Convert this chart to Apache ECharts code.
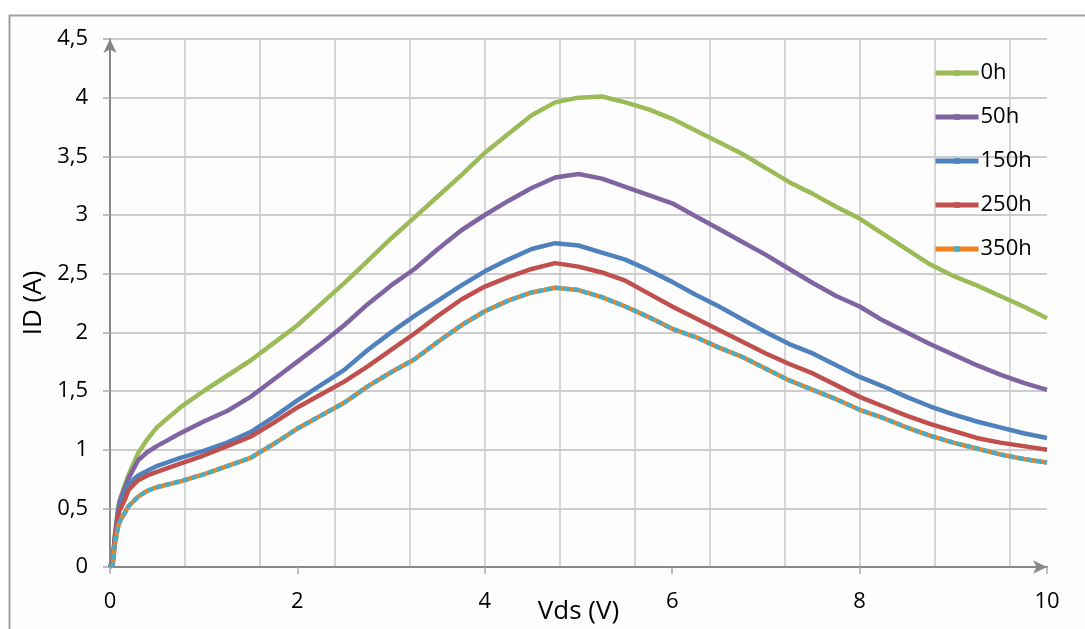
<!DOCTYPE html>
<html>
<head>
<meta charset="utf-8">
<script src="https://cdn.jsdelivr.net/npm/echarts@6/dist/echarts.min.js"></script>
<style>
html,body{margin:0;padding:0;background:#ffffff;}
#chart{width:1085px;height:629px;}
</style>
</head>
<body>
<div id="chart"></div>
<script>
// Vds (V)
const vds = [0, 0.03, 0.05, 0.08, 0.1, 0.15, 0.2, 0.3, 0.4, 0.5, 0.75, 1.0, 1.25, 1.5, 1.75, 2.0, 2.25, 2.5, 2.75, 3.0, 3.25, 3.5, 3.75, 4.0, 4.25, 4.5, 4.75, 5.0, 5.25, 5.5, 5.75, 6.0, 6.25, 6.5, 6.75, 7.0, 7.25, 7.5, 7.75, 8.0, 8.25, 8.5, 8.75, 9.0, 9.25, 9.5, 9.75, 10.0];
// ID (A)
const id0h   = [0, 0.05, 0.25, 0.45, 0.56, 0.68, 0.79, 0.97, 1.09, 1.19, 1.36, 1.50, 1.63, 1.76, 1.91, 2.06, 2.24, 2.42, 2.61, 2.80, 2.98, 3.16, 3.34, 3.53, 3.69, 3.85, 3.96, 4.00, 4.01, 3.96, 3.90, 3.82, 3.72, 3.62, 3.52, 3.40, 3.28, 3.18, 3.07, 2.97, 2.84, 2.71, 2.58, 2.48, 2.40, 2.31, 2.22, 2.12];
const id50h  = [0, 0.05, 0.25, 0.45, 0.55, 0.66, 0.76, 0.91, 0.98, 1.03, 1.14, 1.24, 1.33, 1.45, 1.60, 1.75, 1.90, 2.06, 2.24, 2.40, 2.54, 2.71, 2.87, 3.00, 3.12, 3.23, 3.32, 3.35, 3.31, 3.24, 3.17, 3.10, 2.99, 2.88, 2.77, 2.66, 2.54, 2.42, 2.31, 2.22, 2.10, 2.00, 1.90, 1.81, 1.72, 1.64, 1.57, 1.51];
const id150h = [0, 0.05, 0.22, 0.42, 0.52, 0.63, 0.71, 0.78, 0.82, 0.86, 0.93, 0.99, 1.06, 1.15, 1.28, 1.42, 1.55, 1.68, 1.85, 2.00, 2.14, 2.27, 2.40, 2.52, 2.62, 2.71, 2.76, 2.74, 2.68, 2.62, 2.53, 2.43, 2.32, 2.22, 2.11, 2.00, 1.90, 1.82, 1.72, 1.62, 1.54, 1.45, 1.37, 1.30, 1.24, 1.19, 1.14, 1.10];
const id250h = [0, 0.05, 0.22, 0.40, 0.48, 0.56, 0.66, 0.74, 0.78, 0.81, 0.88, 0.95, 1.03, 1.11, 1.23, 1.36, 1.47, 1.58, 1.71, 1.85, 1.99, 2.14, 2.28, 2.39, 2.47, 2.54, 2.59, 2.56, 2.51, 2.44, 2.33, 2.22, 2.12, 2.02, 1.92, 1.82, 1.73, 1.65, 1.55, 1.45, 1.37, 1.29, 1.22, 1.16, 1.10, 1.06, 1.03, 1.00];
const id350h = [0, 0.02, 0.18, 0.32, 0.38, 0.45, 0.52, 0.60, 0.65, 0.68, 0.73, 0.79, 0.86, 0.93, 1.05, 1.18, 1.29, 1.40, 1.54, 1.66, 1.77, 1.92, 2.06, 2.18, 2.27, 2.34, 2.38, 2.36, 2.30, 2.22, 2.13, 2.03, 1.96, 1.87, 1.79, 1.69, 1.59, 1.51, 1.43, 1.34, 1.27, 1.19, 1.12, 1.06, 1.01, 0.96, 0.92, 0.89];

const seriesNames = ['0h', '50h', '150h', '250h', '350h'];
const seriesValues = [id0h, id50h, id150h, id250h, id350h];
const lineColors = ['#9BBB59', '#8064A2', '#4F81BD', '#C0504D', '#F0821E'];
const markColors = ['#9BBB59', '#8064A2', '#4F81BD', '#C0504D', '#4BACC6'];

const xLabels = [0, 2, 4, 6, 8, 10];
const yLabels = ['0', '0,5', '1', '1,5', '2', '2,5', '3', '3,5', '4', '4,5'];

function pairs(vals) { return vds.map((v, i) => [v, vals[i]]); }

const FONT = '"Open Sans", "Liberation Sans", sans-serif';

const series = seriesNames.map((n, k) => ({
  name: n,
  type: 'line',
  xAxisIndex: 0,
  data: pairs(seriesValues[k]),
  symbol: 'rect',
  symbolSize: 4,
  showSymbol: false,
  lineStyle: { color: lineColors[k], width: 4.5, join: 'round' },
  itemStyle: { color: markColors[k] },
  emphasis: { disabled: true },
  z: 3 + k
}));
// cyan dashed overlay on the 350h curve
series.push({
  name: '350h-marks',
  type: 'line',
  xAxisIndex: 0,
  data: pairs(id350h),
  showSymbol: false,
  symbol: 'none',
  lineStyle: { color: '#4BACC6', width: 4.5, type: [6, 3] },
  emphasis: { disabled: true },
  z: 9
});

const chart = echarts.init(document.getElementById('chart'), null, { renderer: 'canvas' });
chart.setOption({
  animation: false,
  backgroundColor: '#ffffff',
  graphic: [{
    type: 'rect',
    z: -10,
    silent: true,
    shape: { x: 9.5, y: 15.5, width: 1100, height: 700 },
    style: { fill: '#fdfdfd', stroke: '#a0a0a0', lineWidth: 2 }
  }],
  grid: { left: 110, right: 38, top: 39, bottom: 62, containLabel: false, outerBoundsMode: 'none' },
  legend: {
    data: seriesNames,
    orient: 'vertical',
    left: 928,
    top: 57,
    itemWidth: 43,
    itemHeight: 7,
    itemGap: 22,
    lineStyle: { width: 5 },
    textStyle: { fontFamily: FONT, fontSize: 22, color: '#000', lineHeight: 21, padding: [0, 0, 0, -3] }
  },
  xAxis: [{
    type: 'value',
    min: 0, max: 10, interval: 2,
    name: 'Vds (V)',
    nameLocation: 'middle',
    nameGap: 32,
    nameMoveOverlap: false,
    nameTextStyle: { fontFamily: FONT, fontSize: 26, color: '#000', verticalAlign: 'top' },
    axisLine: { show: true, onZero: false, symbol: ['none', 'arrow'], symbolSize: [10, 14], lineStyle: { color: '#888', width: 2 } },
    axisTick: { show: true, inside: false, length: 7, lineStyle: { color: '#aaa', width: 1.5 } },
    axisLabel: { margin: 24, fontFamily: FONT, fontSize: 22, color: '#000', formatter: v => xLabels.includes(v) ? String(v) : '' },
    splitLine: { show: false }
  }, {
    type: 'value',
    min: 0, max: 10, interval: 0.8,
    position: 'bottom',
    axisLine: { show: false },
    axisTick: { show: false },
    axisLabel: { show: false },
    splitLine: { show: true, showMinLine: false, showMaxLine: false, lineStyle: { color: '#c8c8c8', width: 1.5 } }
  }],
  yAxis: {
    type: 'value',
    min: 0, max: 4.5, interval: 0.5,
    name: 'ID (A)',
    nameLocation: 'middle',
    nameGap: 63,
    nameRotate: 90,
    nameMoveOverlap: false,
    nameTextStyle: { fontFamily: FONT, fontSize: 26, color: '#000' },
    axisLine: { show: true, symbol: ['none', 'arrow'], symbolSize: [10, 14], lineStyle: { color: '#888', width: 2 } },
    axisTick: { show: true, inside: false, length: 7, lineStyle: { color: '#aaa', width: 1.5 } },
    axisLabel: { margin: 22, fontFamily: FONT, fontSize: 22, color: '#000', formatter: (v) => yLabels[Math.round(v * 2)] },
    splitLine: { show: true, lineStyle: { color: '#bdbdbd', width: 1.5 } }
  },
  series: series
});
</script>
</body>
</html>
